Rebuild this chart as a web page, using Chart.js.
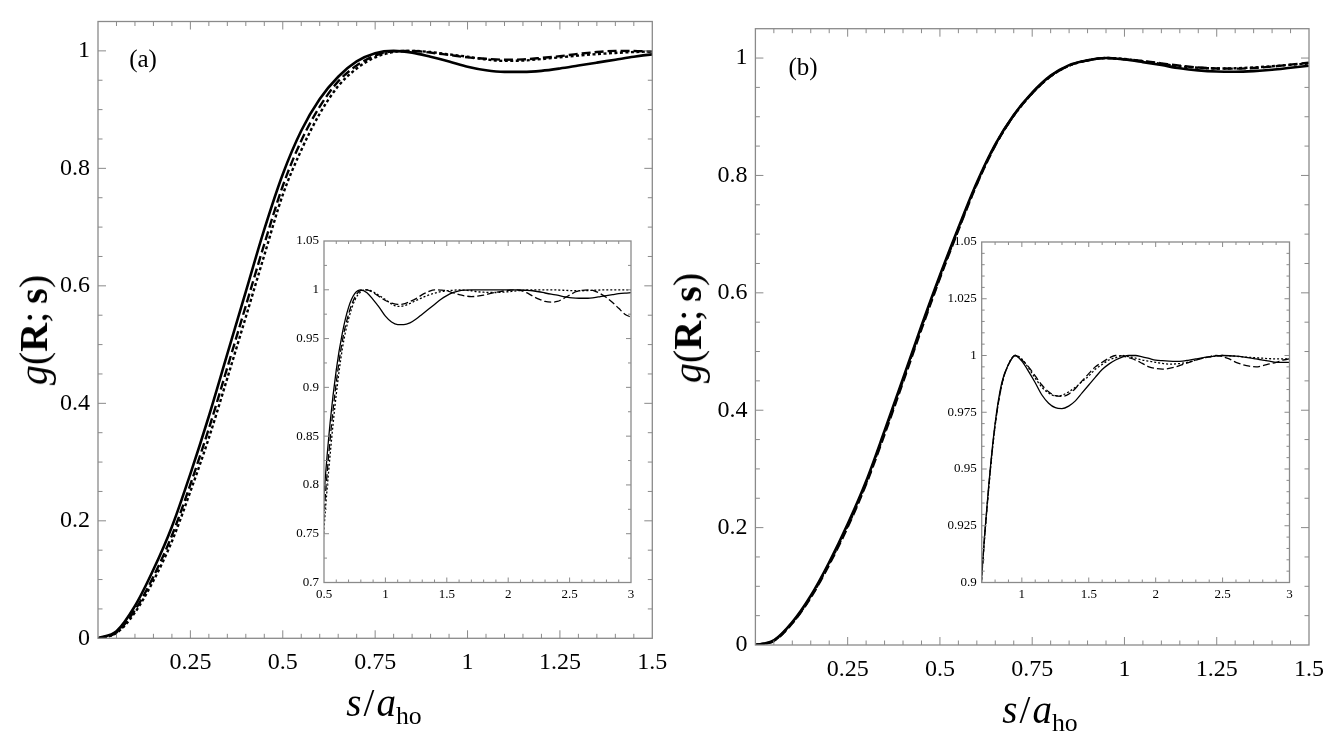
<!DOCTYPE html>
<html>
<head>
<meta charset="utf-8">
<script src="https://cdn.jsdelivr.net/npm/chart.js@4.4.1/dist/chart.umd.min.js"></script>
<style>
  html, body { margin: 0; padding: 0; background: #fff; }
  #stage { position: relative; width: 1334px; height: 750px; overflow: hidden;
           font-family: 'Liberation Serif', 'DejaVu Serif', serif; color: #000; }
  #stage canvas { position: absolute; }
  .lbl { position: absolute; transform: translate(-50%, -50%); white-space: nowrap; line-height: 1; }
  .ytitle { transform: translate(-50%, -50%) rotate(-90deg); }
  .lbl sub { font-size: 0.66em; vertical-align: -0.32em; font-style: normal; }
</style>
</head>
<body>
<div id="stage">
  <canvas id="mainA" width="680" height="750" style="left:0;top:0"></canvas>
  <canvas id="mainB" width="667" height="750" style="left:667px;top:0"></canvas>
  <canvas id="insetA" width="360" height="380" style="left:284px;top:231px"></canvas>
  <canvas id="insetB" width="360" height="380" style="left:940px;top:231px"></canvas>

  <div class="lbl" style="left:143px;top:58px;font-size:25px">(a)</div>
  <div class="lbl" style="left:803px;top:66px;font-size:25px">(b)</div>

  <div class="lbl" style="left:384px;top:706px;font-size:39px"><i>s</i><span style="margin:0 2px">/</span><i>a</i><sub>ho</sub></div>
  <div class="lbl" style="left:1040px;top:713px;font-size:39px"><i>s</i><span style="margin:0 2px">/</span><i>a</i><sub>ho</sub></div>

  <div class="lbl ytitle" style="left:34px;top:330px;font-size:40px"><i>g</i>(<b>R</b>;&thinsp;<b>s</b>)</div>
  <div class="lbl ytitle" style="left:688px;top:328px;font-size:40px"><i>g</i>(<b>R</b>;&thinsp;<b>s</b>)</div>
</div>

<script>
// ---- data: s / a_ho grid and the three curves of each panel ----
const sGrid = [
  0.00, 0.05, 0.10, 0.15, 0.20, 0.25, 0.30, 0.35, 0.40, 0.45,
  0.50, 0.55, 0.60, 0.65, 0.70, 0.75, 0.80, 0.85, 0.90, 0.95,
  1.00, 1.05, 1.10, 1.15, 1.20, 1.25, 1.30, 1.35, 1.40, 1.45,
  1.50, 1.55, 1.60, 1.65, 1.70, 1.75, 1.80, 1.85, 1.90, 1.95,
  2.00, 2.05, 2.10, 2.15, 2.20, 2.25, 2.30, 2.35, 2.40, 2.45,
  2.50, 2.55, 2.60, 2.65, 2.70, 2.75, 2.80, 2.85, 2.90, 2.95,
  3.00
];

// panel (a)
const solidA = [
  0, 0.012, 0.055, 0.117, 0.190, 0.280, 0.378, 0.484, 0.590, 0.696,
  0.790, 0.864, 0.918, 0.956, 0.982, 0.996, 1.000, 0.997, 0.990, 0.982,
  0.973, 0.967, 0.9643, 0.9642, 0.966, 0.970, 0.975, 0.980, 0.985, 0.990,
  0.994, 0.997, 0.999, 0.9997, 1.000, 1.000, 1.000, 1.000, 1.000, 1.000,
  1.000, 1.000, 0.9998, 0.9995, 0.999, 0.998, 0.9967, 0.9955, 0.9945, 0.993,
  0.992, 0.9915, 0.9913, 0.9913, 0.992, 0.993, 0.994, 0.995, 0.996, 0.9966,
  0.997
];
const dashedA = [
  0, 0.010, 0.048, 0.105, 0.175, 0.262, 0.357, 0.461, 0.566, 0.671,
  0.770, 0.847, 0.905, 0.948, 0.975, 0.992, 0.9993, 1.000, 0.997, 0.993,
  0.989, 0.9865, 0.985, 0.9855, 0.988, 0.991, 0.995, 0.998, 1.000, 0.9997,
  0.999, 0.997, 0.995, 0.9937, 0.993, 0.9935, 0.9945, 0.996, 0.9975, 0.9985,
  0.9993, 1.000, 0.9993, 0.997, 0.9935, 0.9905, 0.988, 0.9873, 0.988, 0.991,
  0.9945, 0.998, 0.9995, 1.000, 0.999, 0.996, 0.992, 0.987, 0.981, 0.975,
  0.972
];
const dottedA = [
  0, 0.009, 0.044, 0.098, 0.165, 0.250, 0.341, 0.443, 0.547, 0.652,
  0.755, 0.831, 0.893, 0.940, 0.970, 0.989, 0.998, 1.000, 0.998, 0.994,
  0.990, 0.9855, 0.983, 0.9835, 0.986, 0.989, 0.992, 0.9945, 0.9965, 0.998,
  0.999, 0.9995, 1.000, 0.9995, 0.999, 0.998, 0.9975, 0.9972, 0.9972, 0.9975,
  0.998, 0.9987, 0.9993, 0.9998, 1.000, 1.000, 1.000, 1.000, 0.9998, 0.9995,
  0.9992, 0.999, 0.999, 0.9992, 0.9995, 0.9998, 1.000, 1.000, 1.000, 1.000,
  1.000
];

// panel (b)
const solidB = [
  0, 0.008, 0.039, 0.084, 0.141, 0.206, 0.279, 0.365, 0.454, 0.544,
  0.630, 0.711, 0.788, 0.853, 0.903, 0.941, 0.970, 0.988, 0.996, 1.000,
  0.9975, 0.993, 0.988, 0.9826, 0.979, 0.977, 0.9766, 0.9777, 0.980, 0.9835,
  0.987, 0.9905, 0.9938, 0.9962, 0.998, 0.9993, 1.000, 1.000, 0.9994, 0.9987,
  0.998, 0.9977, 0.9975, 0.9974, 0.9975, 0.998, 0.9985, 0.999, 0.9994, 0.9998,
  1.000, 0.9999, 0.9997, 0.9994, 0.999, 0.9985, 0.998, 0.9975, 0.997, 0.997,
  0.997
];
const dashedB = [
  0, 0.007, 0.037, 0.081, 0.137, 0.201, 0.274, 0.359, 0.448, 0.538,
  0.625, 0.707, 0.785, 0.851, 0.902, 0.940, 0.969, 0.987, 0.996, 1.000,
  0.998, 0.995, 0.991, 0.987, 0.984, 0.9823, 0.982, 0.983, 0.9855, 0.9888,
  0.992, 0.995, 0.997, 0.9988, 1.000, 0.9998, 0.999, 0.998, 0.9965, 0.995,
  0.9943, 0.994, 0.9943, 0.995, 0.996, 0.997, 0.998, 0.9988, 0.9995, 1.000,
  0.9995, 0.9985, 0.997, 0.996, 0.9953, 0.995, 0.9955, 0.9963, 0.997, 0.998,
  0.9985
];
const dottedB = [
  0, 0.0075, 0.038, 0.082, 0.139, 0.203, 0.276, 0.362, 0.451, 0.541,
  0.627, 0.709, 0.786, 0.852, 0.902, 0.940, 0.969, 0.987, 0.996, 1.000,
  0.9985, 0.9945, 0.990, 0.986, 0.9835, 0.9822, 0.9825, 0.984, 0.986, 0.9885,
  0.991, 0.994, 0.996, 0.998, 0.999, 1.000, 0.9995, 0.9988, 0.998, 0.9975,
  0.997, 0.9965, 0.9962, 0.9963, 0.9966, 0.9972, 0.998, 0.9988, 0.9993, 0.9998,
  1.000, 0.9999, 0.9997, 0.9994, 0.9992, 0.999, 0.9988, 0.9986, 0.9985, 0.9985,
  0.9985
];

const FRAME = '#8a8a8a';
const SERIF = "'Liberation Serif', 'DejaVu Serif', serif";

// Mathematica-style frame: box plus inward major/minor ticks on all four sides
const frameTicks = {
  id: 'frameTicks',
  afterDatasetsDraw(chart, args, o) {
    const { ctx, chartArea: a } = chart;
    const xs = chart.scales.x, ys = chart.scales.y;
    const mark = (scale, minor, major, draw) => {
      const n = Math.round((scale.max - scale.min) / minor);
      for (let i = 1; i < n; i++) {
        const v = scale.min + i * minor;
        const r = v / major;
        draw(scale.getPixelForValue(v), Math.abs(r - Math.round(r)) < 1e-6 ? o.major : o.minor);
      }
    };
    ctx.save();
    ctx.strokeStyle = FRAME;
    ctx.lineWidth = 1;
    ctx.beginPath();
    mark(xs, o.xMinor, o.xMajor, (p, len) => {
      ctx.moveTo(p, a.bottom); ctx.lineTo(p, a.bottom - len);
      ctx.moveTo(p, a.top); ctx.lineTo(p, a.top + len);
    });
    mark(ys, o.yMinor, o.yMajor, (p, len) => {
      ctx.moveTo(a.left, p); ctx.lineTo(a.left + len, p);
      ctx.moveTo(a.right, p); ctx.lineTo(a.right - len, p);
    });
    ctx.stroke();
    ctx.lineWidth = 1.3;
    ctx.strokeRect(a.left, a.top, a.right - a.left, a.bottom - a.top);
    ctx.restore();
  }
};

const fmt = (v) => String(Number(v.toFixed(4)));

function buildChart(id, cfg) {
  const styles = cfg.inset
    ? [{ w: 1.3, dash: [] }, { w: 1.3, dash: [7, 3] }, { w: 1.3, dash: [2, 2] }]
    : [{ w: 2.6, dash: [] }, { w: 2.4, dash: [9, 4] }, { w: 2.4, dash: [3, 2.5] }];
  const font = { family: SERIF, size: cfg.inset ? 13 : 24 };

  return new Chart(document.getElementById(id), {
    type: 'line',
    data: {
      datasets: cfg.series.map((vals, k) => ({
        data: sGrid.map((s, i) => ({ x: s, y: vals[i] })),
        borderColor: '#000',
        borderWidth: styles[k].w,
        borderDash: styles[k].dash,
        pointRadius: 0,
        fill: false,
        cubicInterpolationMode: 'monotone',
      })),
    },
    options: {
      responsive: false,
      animation: false,
      events: [],
      layout: { padding: { left: 0, top: cfg.area.top, right: cfg.area.right, bottom: 0 } },
      plugins: {
        legend: { display: false },
        tooltip: { enabled: false },
        frameTicks: {
          xMinor: cfg.x.minor, xMajor: cfg.x.step,
          yMinor: cfg.y.minor, yMajor: cfg.y.step,
          major: cfg.inset ? 5 : 8, minor: cfg.inset ? 3 : 4.5,
        },
      },
      scales: {
        x: {
          type: 'linear',
          min: cfg.x.min, max: cfg.x.max,
          grid: { display: false, drawTicks: false },
          border: { display: false },
          ticks: {
            stepSize: cfg.x.step, includeBounds: false, autoSkip: false, maxRotation: 0,
            padding: cfg.inset ? 4 : 10, color: '#000', font,
            callback: (v) => (cfg.hideX0 && v === 0 ? '' : fmt(v)),
          },
          afterFit: (s) => { s.height = cfg.area.bottom; s.paddingLeft = 0; s.paddingRight = 0; },
        },
        y: {
          min: cfg.y.min, max: cfg.y.max,
          grid: { display: false, drawTicks: false },
          border: { display: false },
          ticks: {
            stepSize: cfg.y.step, includeBounds: false, autoSkip: false,
            padding: cfg.inset ? 5 : 8, color: '#000', font,
            callback: (v) => fmt(v),
          },
          afterFit: (s) => { s.width = cfg.area.left; s.paddingTop = 0; s.paddingBottom = 0; },
        },
      },
    },
    plugins: [frameTicks],
  });
}

buildChart('mainA', {
  series: [solidA, dashedA, dottedA],
  area: { left: 98, top: 21.5, right: 27.7, bottom: 111.7 },
  x: { min: 0, max: 1.5, step: 0.25, minor: 0.05 },
  y: { min: 0, max: 1.05, step: 0.2, minor: 0.05 },
  hideX0: true,
});

buildChart('mainB', {
  series: [solidB, dashedB, dottedB],
  area: { left: 88.4, top: 28.7, right: 25, bottom: 105 },
  x: { min: 0, max: 1.5, step: 0.25, minor: 0.05 },
  y: { min: 0, max: 1.05, step: 0.2, minor: 0.05 },
  hideX0: true,
});

buildChart('insetA', {
  inset: true,
  series: [solidA, dashedA, dottedA],
  area: { left: 40, top: 10, right: 13, bottom: 28.5 },
  x: { min: 0.5, max: 3, step: 0.5, minor: 0.1 },
  y: { min: 0.7, max: 1.05, step: 0.05, minor: 0.025 },
});

buildChart('insetB', {
  inset: true,
  series: [solidB, dashedB, dottedB],
  area: { left: 41.7, top: 11, right: 10.5, bottom: 28.5 },
  x: { min: 0.7, max: 3, step: 0.5, minor: 0.1 },
  y: { min: 0.9, max: 1.05, step: 0.025, minor: 0.005 },
});
</script>
</body>
</html>
